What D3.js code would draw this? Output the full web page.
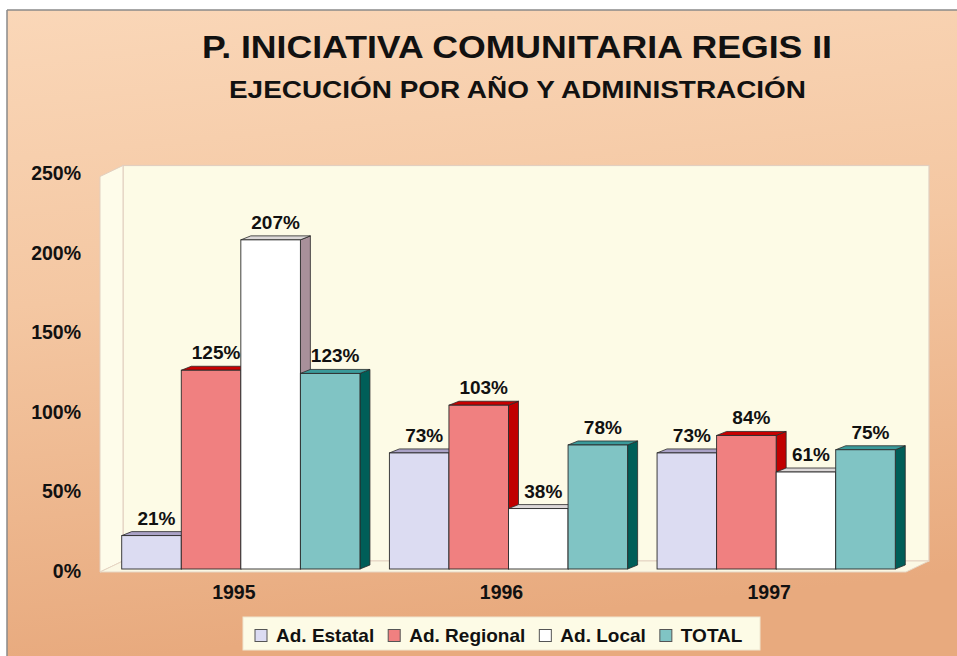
<!DOCTYPE html>
<html>
<head>
<meta charset="utf-8">
<script src="https://cdn.jsdelivr.net/npm/d3@7"></script>
<style>
  html, body { margin: 0; padding: 0; background: #ffffff; }
  svg { display: block; }
  text { font-family: "Liberation Sans", Arial, Helvetica, sans-serif; font-weight: bold; fill: #111; }
</style>
</head>
<body>
<svg id="chart" width="957" height="656"></svg>
<script>
// ---- data ----
const years = ["1995", "1996", "1997"];
const seriesNames = ["Ad. Estatal", "Ad. Regional", "Ad. Local", "TOTAL"];
const estatal = [21, 73, 73];
const regional = [125, 103, 84];
const local = [207, 38, 61];
const total = [123, 78, 75];
const yTicks = [0, 50, 100, 150, 200, 250];
const titleText = "P. INICIATIVA COMUNITARIA REGIS II";
const subtitleText = "EJECUCIÓN POR AÑO Y ADMINISTRACIÓN";

const seriesValues = [estatal, regional, local, total];
const frontColors = ["#dcdcf2", "#f08080", "#ffffff", "#80c4c4"];
const topColors = ["#aaa2c6", "#c80000", "#dcd8d8", "#3a9a9a"];
const sideColors = ["#9a90b8", "#c00000", "#a8909a", "#005e58"];

const svg = d3.select("#chart");
const W = 957, H = 656;

// ---- background ----
const defs = svg.append("defs");
const bg = defs.append("linearGradient").attr("id", "bg").attr("x1", 0).attr("y1", 0).attr("x2", 0.15).attr("y2", 1);
bg.append("stop").attr("offset", "0%").attr("stop-color", "#fad7b8");
bg.append("stop").attr("offset", "45%").attr("stop-color", "#f4c7a2");
bg.append("stop").attr("offset", "100%").attr("stop-color", "#e8aa7e");

svg.append("rect").attr("x", 0).attr("y", 0).attr("width", W).attr("height", H).attr("fill", "#ffffff");
svg.append("rect").attr("x", 7).attr("y", 10).attr("width", W - 7).attr("height", H - 10).attr("fill", "url(#bg)");
svg.append("line").attr("x1", 7).attr("y1", 10).attr("x2", W).attr("y2", 10).attr("stroke", "#8a8a8a").attr("stroke-width", 1.5);
svg.append("line").attr("x1", 7).attr("y1", 10).attr("x2", 7).attr("y2", H).attr("stroke", "#8a8a8a").attr("stroke-width", 1.5);

// ---- titles ----
svg.append("text").attr("x", 517).attr("y", 58).attr("text-anchor", "middle")
  .attr("font-size", 32).attr("textLength", 630).attr("lengthAdjust", "spacingAndGlyphs")
  .text(titleText);
svg.append("text").attr("x", 517.5).attr("y", 98).attr("text-anchor", "middle")
  .attr("font-size", 24.5).attr("textLength", 577).attr("lengthAdjust", "spacingAndGlyphs")
  .text(subtitleText);

// ---- scales ----
const y = d3.scaleLinear().domain([0, 250]).range([569, 171.5]);
const xBand = d3.scaleBand().domain(years).range([107, 910]).paddingInner(0.11).paddingOuter(0.055);
const xSeries = d3.scaleBand().domain(seriesNames).range([0, xBand.bandwidth()]).padding(0);

// ---- 3D walls ----
const DX = 23, DY = -11;
const fx0 = 100, fx1 = 906;
const fBottom = y(0) + 3, fTop = y(250) + 5;
const wallStroke = "#e2cfc0";
svg.append("rect").attr("x", fx0 + DX).attr("y", fTop + DY).attr("width", fx1 - fx0)
  .attr("height", fBottom - fTop).attr("fill", "#fdfbe6").attr("stroke", wallStroke).attr("stroke-width", 1.2);
svg.append("polygon").attr("points", [[fx0, fBottom], [fx0, fTop], [fx0 + DX, fTop + DY], [fx0 + DX, fBottom + DY]].join(" "))
  .attr("fill", "#fefcea").attr("stroke", wallStroke).attr("stroke-width", 1);
svg.append("polygon").attr("points", [[fx0, fBottom], [fx1, fBottom], [fx1 + DX, fBottom + DY], [fx0 + DX, fBottom + DY]].join(" "))
  .attr("fill", "#fbf8e4").attr("stroke", "#e6d6c4").attr("stroke-width", 1);

// ---- y axis labels ----
svg.append("g").selectAll("text").data(yTicks).join("text")
  .attr("x", 81).attr("y", d => y(d) + 8.5).attr("text-anchor", "end")
  .attr("font-size", 19.5).text(d => d + "%");

// ---- bars ----
const bdx = 10, bdy = -4;
const barData = [];
years.forEach((yr, gi) => {
  seriesNames.forEach((s, si) => {
    barData.push({ year: yr, series: s, si: si, value: seriesValues[si][gi] });
  });
});

const bars = svg.append("g").selectAll("g").data(barData).join("g");
bars.each(function(d) {
  const g = d3.select(this);
  const x = xBand(d.year) + xSeries(d.series);
  const w = xSeries.bandwidth();
  const top = y(d.value), bot = y(0);
  g.append("polygon")
    .attr("points", [[x + w, top], [x + w + bdx, top + bdy], [x + w + bdx, bot + bdy], [x + w, bot]].join(" "))
    .attr("fill", sideColors[d.si]).attr("stroke", "#2a2a2a").attr("stroke-width", 0.8).attr("stroke-linejoin", "round");
  g.append("polygon")
    .attr("points", [[x, top], [x + bdx, top + bdy], [x + w + bdx, top + bdy], [x + w, top]].join(" "))
    .attr("fill", topColors[d.si]).attr("stroke", "#2a2a2a").attr("stroke-width", 0.8).attr("stroke-linejoin", "round");
  g.append("rect").attr("x", x).attr("y", top).attr("width", w).attr("height", bot - top)
    .attr("fill", frontColors[d.si]).attr("stroke", "#2a2a2a").attr("stroke-width", 0.9);
});

// value labels
svg.append("g").selectAll("text").data(barData).join("text")
  .attr("x", d => xBand(d.year) + xSeries(d.series) + xSeries.bandwidth() / 2 + 5)
  .attr("y", d => y(d.value) - 11)
  .attr("text-anchor", "middle").attr("font-size", 19)
  .text(d => d.value + "%");

// category labels
svg.append("g").selectAll("text").data(years).join("text")
  .attr("x", d => xBand(d) + xBand.bandwidth() / 2 - 7)
  .attr("y", 599).attr("text-anchor", "middle").attr("font-size", 19.5)
  .text(d => d);

// ---- legend ----
const lg = svg.append("g");
lg.append("rect").attr("x", 243).attr("y", 617).attr("width", 517).attr("height", 33)
  .attr("fill", "#fdfbe6").attr("stroke", "#efe6d0").attr("stroke-width", 1);
const sw = 12, gapSwText = 9, gapItems = 14;
const items = lg.selectAll("g.item").data(seriesNames).join("g").attr("class", "item");
items.append("rect").attr("width", sw).attr("height", sw)
  .attr("fill", (d, i) => frontColors[i]).attr("stroke", "#555").attr("stroke-width", 1);
items.append("text").attr("font-size", 19).text(d => d);
const widths = [];
items.select("text").each(function() { widths.push(this.getComputedTextLength()); });
let cx = 255;
items.each(function(d, i) {
  const g = d3.select(this);
  g.select("rect").attr("x", cx).attr("y", 629.5);
  g.select("text").attr("x", cx + sw + gapSwText).attr("y", 641.5);
  cx += sw + gapSwText + widths[i] + gapItems;
});
</script>
</body>
</html>
